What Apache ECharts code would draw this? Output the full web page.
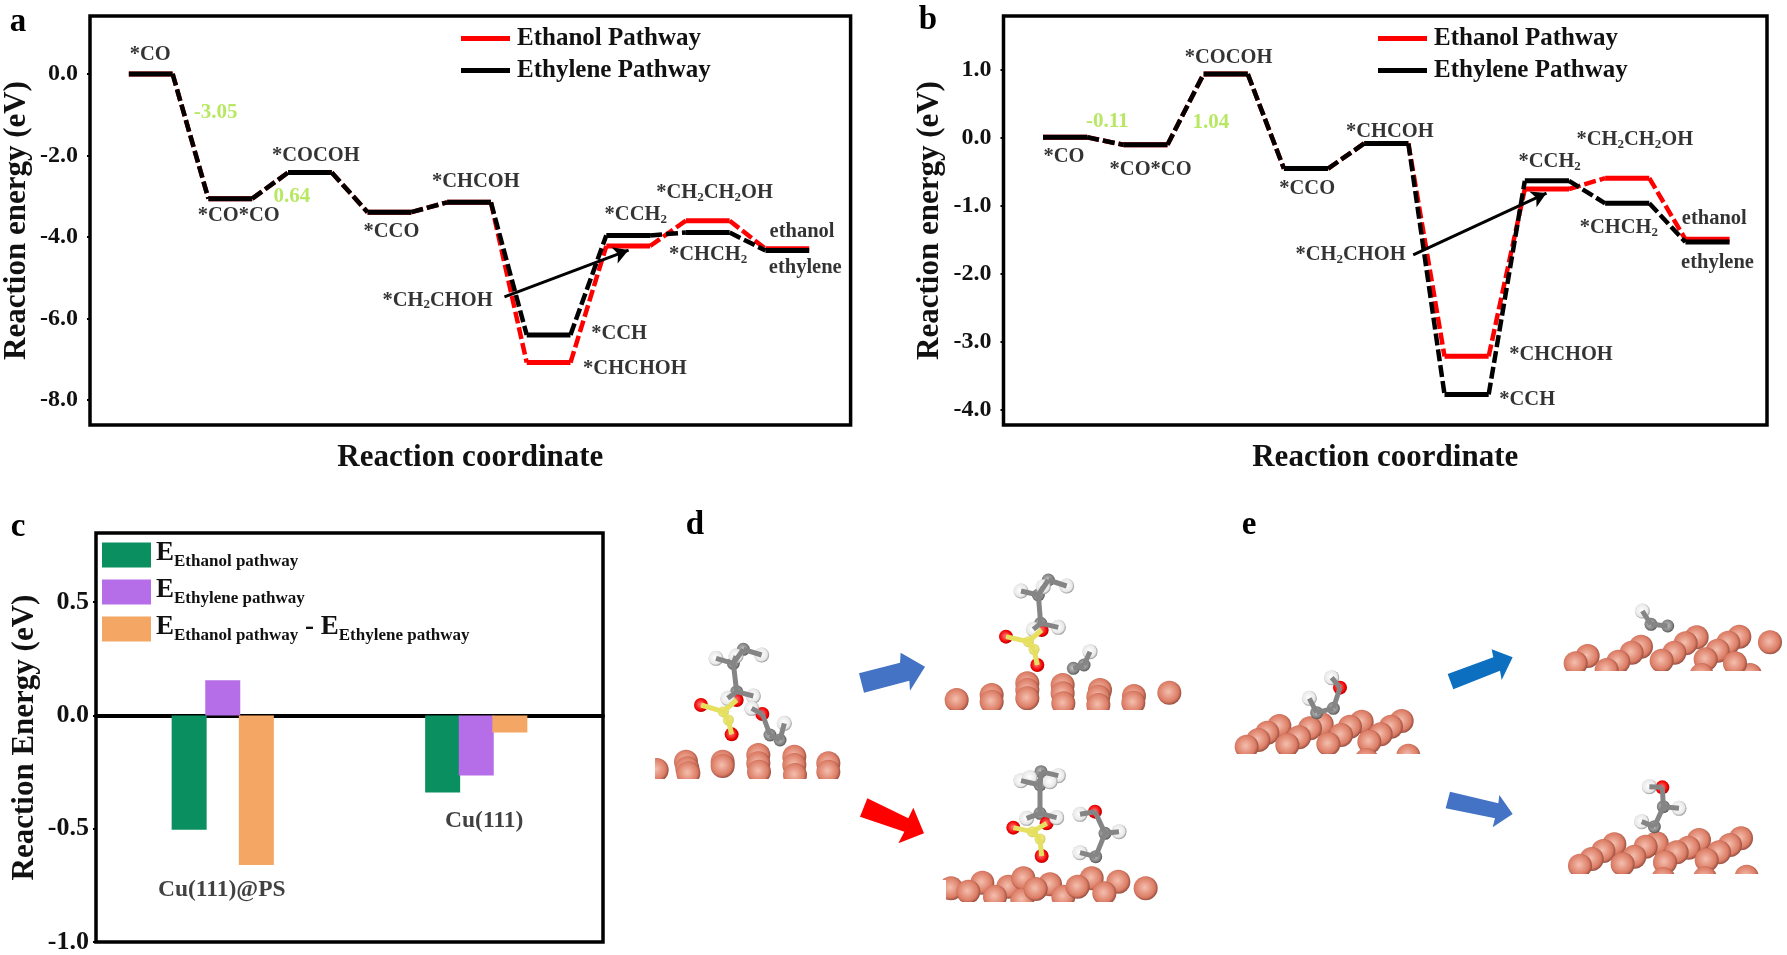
<!DOCTYPE html>
<html><head><meta charset="utf-8">
<style>html,body{margin:0;padding:0;background:#fff}#c{width:1787px;height:955px}</style>
<script src="https://cdn.jsdelivr.net/npm/echarts@6/dist/echarts.min.js"></script></head>
<body><div id="c"></div>
<script>
// ---------- panel a / b energies ----------
const ethanolA  = [0,-3.06,-2.42,-3.39,-3.15,-7.08,-4.22,-3.60,-4.29];
const ethyleneA = [0,-3.06,-2.42,-3.39,-3.15,-6.40,-3.96,-3.89,-4.33];
const ethanolB  = [0,-0.11,0.93,-0.46,-0.09,-3.22,-0.76,-0.60,-1.50];
const ethyleneB = [0,-0.11,0.93,-0.46,-0.09,-3.78,-0.64,-0.97,-1.54];
const ticksA = [0,-2,-4,-6,-8];
const ticksB = [1,0,-1,-2,-3,-4];
const ticksC = [0.5,0,-0.5,-1];
const pathwayNames = ['Ethanol Pathway','Ethylene Pathway'];
// ---------- annotation anchors, in data units ----------
const notesA = [['*CO',.27,.47],['*COCOH',2.35,-2.01],['*CO*CO',1.38,-3.48],['*CHCOH',4.36,-2.65],['*CCO',3.30,-3.88],
 ['*CH{s|2}CH{s|2}OH',7.36,-2.92],['*CCH{s|2}',6.37,-3.46],['ethanol',8.46,-3.88],['ethylene',8.50,-4.76],['*CHCH{s|2}',7.28,-4.44],
 ['*CH{s|2}CHOH',3.88,-5.55],['*CCH',6.16,-6.38],['*CHCHOH',6.36,-7.24]];
const greenA = [['-3.05',1.09,-.96],['0.64',2.05,-3.02]];
const arrowA = [[4.72,-5.47],[6.28,-4.32]];
const notesB = [['*CO',.26,-.29],['*CO*CO',1.34,-.47],['*COCOH',2.31,1.17],['*CHCOH',4.32,.09],['*CCO',3.29,-.76],
 ['*CH{s|2}CH{s|2}OH',7.37,-.04],['*CCH{s|2}',6.31,-.36],['ethanol',8.36,-1.19],['ethylene',8.40,-1.85],['*CHCH{s|2}',7.17,-1.33],
 ['*CH{s|2}CHOH',3.83,-1.73],['*CHCHOH',6.45,-3.19],['*CCH',6.03,-3.86]];
const greenB = [['-0.11',.80,.225],['1.04',2.09,.21]];
const arrowB = [[4.61,-1.73],[6.27,-.82]];
// ---------- panel c ----------
const catsC = ['Cu(111)@PS','Cu(111)'];
const seriesNamesC = ['EthanolE','EthyleneE','DiffE'];
const ethanolC = [-0.505,-0.34];
const ethyleneC = [0.155,-0.265];
const diffC = [-0.66,-0.075];
const catNotesC = [[0,-0.772],[1,-0.465]];
// ---------- structures d, e (atom positions in each picture's own units) ----------
const structs = [
 {box:[655,640,190,139],
  cu:[[5,390],[93,365],[97,385],[100,400],[203,365],[203,378],[310,345],[310,370],[312,395],[418,350],[418,375],[420,405],[520,370],[520,395]],
  c:[[265,28],[235,70],[245,155],[345,285],[375,300]],s:[[205,215],[220,240]],o:[[245,180],[138,195],[230,283],[322,222]],
  h:[[183,55],[243,48],[320,45],[218,175],[295,168],[290,205],[388,250]],
  grey:[[235,70,245,155],[235,70,183,55],[235,70,265,28],[265,28,320,45],[235,70,243,48],[245,155,218,175],[245,155,295,168],[345,285,375,300],[375,300,388,250],[322,222,345,285],[322,222,290,205]],
  yel:[[205,215,138,195],[205,215,220,240],[220,240,230,283],[205,215,245,180]]},
 {box:[940,570,240,140],
  cu:[[50,390],[155,375],[155,395],[262,340],[262,360],[262,385],[368,345],[368,370],[370,400],[480,360],[475,380],[475,405],[582,378],[580,398],[688,368]],
  c:[[325,30],[295,75],[302,160],[400,295],[432,285]],s:[[265,215],[282,238]],o:[[305,180],[198,200],[292,285]],
  h:[[243,63],[310,50],[380,48],[280,178],[355,172],[450,245]],
  grey:[[295,75,302,160],[295,75,243,63],[295,75,325,30],[325,30,380,48],[295,75,310,50],[302,160,280,178],[302,160,355,172],[400,295,432,285],[432,285,450,245]],
  yel:[[265,215,198,200],[265,215,282,238],[282,238,292,285],[265,215,305,180]]},
 {box:[945,765,220,137],
  cu:[[18,370],[112,353],[190,365],[235,340],[315,358],[440,340],[520,350],[70,380],[150,395],[232,405],[272,372],[355,395],[398,365],[478,385],[602,370]],
  c:[[288,20],[285,60],[285,145],[480,205],[452,275]],s:[[262,200],[285,222]],o:[[305,175],[205,188],[450,140],[290,273]],
  h:[[228,47],[255,38],[340,32],[315,50],[245,160],[335,158],[405,148],[522,200],[405,263]],
  grey:[[285,60,285,145],[285,60,228,47],[285,60,288,20],[288,20,340,32],[285,145,245,160],[285,145,335,158],[450,140,480,205],[450,140,405,148],[480,205,522,200],[480,205,452,275],[452,275,405,263]],
  yel:[[262,200,205,188],[262,200,285,222],[285,222,290,273],[262,200,305,175]]},
 {box:[1230,665,200,89],
  cu:[[148,183],[112,203],[85,225],[50,245],[275,178],[240,190],[207,217],[172,240],[395,170],[360,185],[333,210],[295,237],[515,168],[483,185],[452,208],[418,230],[535,272],[410,285]],
  c:[[260,143],[310,130]],s:[],o:[[330,68]],h:[[238,100],[305,38]],
  grey:[[238,100,260,143],[260,143,310,130],[310,130,330,68],[330,68,305,38]],yel:[]},
 {box:[1555,600,232,71],
  cu:[[98,168],[62,190],[258,140],[230,158],[190,185],[155,210],[425,112],[392,130],[358,158],[320,182],[553,110],[520,128],[488,152],[452,178],[585,225],[440,225],[540,190],[645,127]],
  c:[[288,73],[338,78]],s:[],o:[],h:[[262,33]],grey:[[262,33,288,73],[288,73,338,78]],yel:[]},
 {box:[1555,775,215,99],
  cu:[[178,208],[145,228],[110,252],[75,272],[305,205],[272,215],[238,245],[203,268],[432,195],[400,218],[365,232],[330,262],[558,190],[525,210],[492,232],[455,255],[575,305],[450,310],[325,312]],
  c:[[325,95],[298,155]],s:[],o:[[322,37]],h:[[283,35],[372,100],[260,140]],
  grey:[[260,140,298,155],[298,155,325,95],[325,95,372,100],[325,95,322,37],[322,37,283,35]],yel:[]}
];
// big block arrows
const blockArrows = [
 {c:'#4472c4',o:[850,640],p:[[27,100],[150,68],[152,38],[225,80],[180,152],[178,122],[42,158]]},
 {c:'#ff0000',o:[850,640],p:[[52,475],[175,535],[190,503],[222,580],[145,610],[163,575],[30,530]]},
 {c:'#0d6fc0',o:[1440,650],p:[[23,72],[160,22],[155,-2],[218,22],[185,90],[180,62],[40,118]]},
 {c:'#4472c4',o:[1440,650],p:[[30,425],[175,460],[178,435],[218,492],[158,532],[165,505],[17,475]]}
];
const panelLetters = [['a',18,22],['b',928,20],['c',18,527],['d',695,525],['e',1249,525]];

const serif = '"Liberation Serif","Times New Roman",serif';
const RED='#ff0000', BLACK='#000000';
const ball = (a,b,c)=>new echarts.graphic.RadialGradient(.46,.46,.56,[{offset:0,color:a},{offset:.75,color:b},{offset:1,color:c}]);
const subRich = {s:{fontFamily:serif,fontWeight:'bold',fontSize:13,padding:[9,0,0,0],verticalAlign:'bottom',lineHeight:22,color:'#000'}};

const grids=[],xAxes=[],yAxes=[],series=[],legends=[];

function energyPanel(box,xr,yr,ticks,ethanol,ethylene,notes,greens,arrow,legendPos){
  const g=grids.length;
  grids.push({left:box[0],top:box[1],width:box[2],height:box[3],show:true,borderColor:'#000',borderWidth:3.5,backgroundColor:'transparent'});
  xAxes.push({gridIndex:g,type:'value',min:xr[0],max:xr[1],name:'Reaction coordinate',nameLocation:'middle',nameGap:17,
    nameTextStyle:{fontFamily:serif,fontWeight:'bold',fontSize:31,color:'#111',verticalAlign:'top'},
    axisLine:{show:false,onZero:false},axisTick:{show:false},axisLabel:{show:false},splitLine:{show:false}});
  yAxes.push({gridIndex:g,type:'value',min:yr[0],max:yr[1],name:'Reaction energy (eV)',nameLocation:'middle',nameGap:58,nameRotate:90,
    nameTextStyle:{fontFamily:serif,fontWeight:'bold',fontSize:31,color:'#111'},
    axisLine:{show:false,onZero:false},splitLine:{show:false},
    axisTick:{show:true,length:3,customValues:ticks,lineStyle:{color:'#000',width:2}},
    axisLabel:{show:true,margin:12,customValues:ticks,formatter:v=>v.toFixed(1),fontFamily:serif,fontWeight:'bold',fontSize:24,color:'#111'}});
  const W=0.55;
  [[pathwayNames[0],ethanol,RED],[pathwayNames[1],ethylene,BLACK]].forEach(([nm,vals,col])=>{
    const flat=[],conn=[];
    vals.forEach((v,i)=>{
      flat.push([i,v],[i+W,v],[i+W,null]);
      if(i<vals.length-1) conn.push([i+W,v],[i+1,vals[i+1]],[i+1,null]);
    });
    series.push({name:nm,type:'line',xAxisIndex:g,yAxisIndex:g,data:conn,showSymbol:false,connectNulls:false,silent:true,
      itemStyle:{color:col},lineStyle:{color:col,width:4.5,type:[12,4]}});
    series.push({name:nm,type:'line',xAxisIndex:g,yAxisIndex:g,data:flat,showSymbol:false,connectNulls:false,silent:true,
      itemStyle:{color:col},lineStyle:{color:col,width:5}});
  });
  series.push({type:'scatter',xAxisIndex:g,yAxisIndex:g,symbolSize:0,silent:true,z:5,clip:false,
    data:notes.map(n=>({value:[n[1],n[2]],txt:n[0]})),
    label:{show:true,position:'inside',formatter:p=>p.data.txt,fontFamily:serif,fontWeight:'bold',fontSize:20.5,color:'#000',rich:subRich}});
  series.push({type:'scatter',xAxisIndex:g,yAxisIndex:g,symbolSize:0,silent:true,z:5,
    data:greens.map(n=>({value:[n[1],n[2]],txt:n[0]})),
    label:{show:true,position:'inside',formatter:p=>p.data.txt,fontFamily:serif,fontWeight:'bold',fontSize:21,color:'#a6e23c'}});
  series.push({type:'line',xAxisIndex:g,yAxisIndex:g,data:[],silent:true,z:6,
    markLine:{silent:true,animation:false,precision:4,symbol:['none','arrow'],symbolSize:[13,15],lineStyle:{color:'#000',width:3,type:'solid'},label:{show:false},
      data:[[{coord:arrow[0]},{coord:arrow[1]}]]}});
  legends.push({left:legendPos[0],top:legendPos[1],padding:0,orient:'vertical',itemWidth:49,itemHeight:5,itemGap:7,selectedMode:false,
    data:[{name:pathwayNames[0],icon:'rect',itemStyle:{color:RED}},{name:pathwayNames[1],icon:'rect',itemStyle:{color:BLACK}}],
    textStyle:{fontFamily:serif,fontWeight:'bold',fontSize:25,lineHeight:22,color:'#111',padding:[0,0,0,2]}});
}
energyPanel([87,16,763.6,409],[-0.488,9.07],[-8.61,1.42],ticksA,ethanolA,ethyleneA,notesA,greenA,arrowA,[461,26]);
energyPanel([1003.5,16,763.5,409],[-0.492,9.016],[-4.23,1.784],ticksB,ethanolB,ethyleneB,notesB,greenB,arrowB,[1378,26]);

// ---- panel c ----
{
  const g=grids.length;
  grids.push({left:96,top:533,width:507,height:410,show:true,borderColor:'#000',borderWidth:3.5});
  xAxes.push({gridIndex:g,type:'category',data:catsC,axisLabel:{show:false},axisTick:{show:false},
    axisLine:{show:true,onZero:true,lineStyle:{color:'#000',width:4}}});
  yAxes.push({gridIndex:g,type:'value',min:-1,max:0.805,name:'Reaction Energy (eV)',nameLocation:'middle',nameGap:56,nameRotate:90,
    nameTextStyle:{fontFamily:serif,fontWeight:'bold',fontSize:31,color:'#111'},
    axisLine:{show:false,onZero:false},splitLine:{show:false},
    axisTick:{show:true,length:3,customValues:ticksC,lineStyle:{color:'#000',width:2}},
    axisLabel:{show:true,margin:7,customValues:ticksC,formatter:v=>v.toFixed(1),fontFamily:serif,fontWeight:'bold',fontSize:26,color:'#111'}});
  const cols=['#0a8f60','#b56ee8','#f4a765'];
  const decal={symbol:'circle',symbolSize:.14,dashArrayX:[1,0],dashArrayY:[3,3],rotation:.5,color:'rgba(70,30,110,.45)'};
  [ethanolC,ethyleneC,diffC].forEach((vals,i)=>{
    series.push({name:seriesNamesC[i],type:'bar',xAxisIndex:g,yAxisIndex:g,data:vals,barWidth:35,barGap:'-4%',silent:true,
      itemStyle:i===1?{color:cols[i],decal}:{color:cols[i]}});
  });
  series.push({type:'scatter',xAxisIndex:g,yAxisIndex:g,symbolSize:0,silent:true,z:5,
    data:catNotesC.map((d,i)=>({value:d,txt:catsC[i],label:{offset:[i?8:-1,0]}})),
    label:{show:true,position:'inside',formatter:p=>p.data.txt,fontFamily:serif,fontWeight:'bold',fontSize:23.5,color:'#111'}});
  const legendText={EthanolE:'{e|E}{u|Ethanol pathway}',EthyleneE:'{e|E}{u|Ethylene pathway}',DiffE:'{e|E}{u|Ethanol pathway}{e| - E}{u|Ethylene pathway}'};
  legends.push({left:102,top:540,padding:0,orient:'vertical',icon:'rect',itemWidth:49,itemHeight:25,itemGap:7,selectedMode:false,data:seriesNamesC,
    formatter:n=>legendText[n],
    textStyle:{color:'#111',rich:{
      e:{fontFamily:serif,fontWeight:'bold',fontSize:27,lineHeight:30,verticalAlign:'top',color:'#111'},
      u:{fontFamily:serif,fontWeight:'bold',fontSize:17,lineHeight:24,padding:[10,0,0,0],verticalAlign:'bottom',color:'#111'}}}});
}

// ---- molecular pictures ----
const AT={cu:[24,ball('#f4bfae','#dc7c65','#8f4a3c')],c:[13,ball('#c8c8c8','#808080','#4a4a4a')],
  s:[11,ball('#f4f09a','#e6e070','#c4be50')],o:[14,ball('#ff7a7a','#f00000','#b00000')],h:[15,ball('#ffffff','#e8e8e8','#8a8a8a')]};
const masks=[];
structs.forEach(st=>{
  const g=grids.length,[l,t,w,h]=st.box;
  grids.push({left:l,top:t,width:w,height:h,show:false});
  xAxes.push({gridIndex:g,type:'value',min:0,max:w*3,show:false,scale:true});
  yAxes.push({gridIndex:g,type:'value',min:0,max:h*3,inverse:true,show:false,scale:true});
  const common={xAxisIndex:g,yAxisIndex:g,silent:true};
  const atom=k=>series.push({...common,type:'scatter',clip:false,data:st[k].map(a=>[a[0],a[1]]),
    symbolSize:AT[k][0],itemStyle:{color:AT[k][1],opacity:1}});
  const bonds=(list,col,wd)=>{
    const d=[];list.forEach(b=>d.push([b[0],b[1]],[b[2],b[3]],[b[2],null]));
    series.push({...common,type:'line',data:d,showSymbol:false,connectNulls:false,lineStyle:{color:col,width:wd}});
  };
  atom('cu');
  bonds(st.grey,'#858585',5);
  bonds(st.yel,'#e6e060',5);
  atom('c');atom('s');atom('o');atom('h');
  masks.push([l-20,t+h,w+40,24]);
});
masks.push([640,740,15,45],[930,880,16,25]);

const graphic=[];
masks.forEach(m=>graphic.push({type:'rect',silent:true,z:100,shape:{x:m[0],y:m[1],width:m[2],height:m[3]},style:{fill:'#fff'}}));
blockArrows.forEach(a=>graphic.push({type:'polygon',silent:true,
  shape:{points:a.p.map(q=>[a.o[0]+q[0]/3,a.o[1]+q[1]/3])},style:{fill:a.c}}));
panelLetters.forEach(p=>graphic.push({type:'text',x:p[1],y:p[2],silent:true,
  style:{text:p[0],fill:'#000',font:'bold 33px '+serif,align:'center',verticalAlign:'middle'}}));

const chart=echarts.init(document.getElementById('c'),null,{renderer:'canvas'});
chart.setOption({animation:false,backgroundColor:'#fff',grid:grids,xAxis:xAxes,yAxis:yAxes,series,legend:legends,graphic,tooltip:{show:false}});
</script></body></html>
